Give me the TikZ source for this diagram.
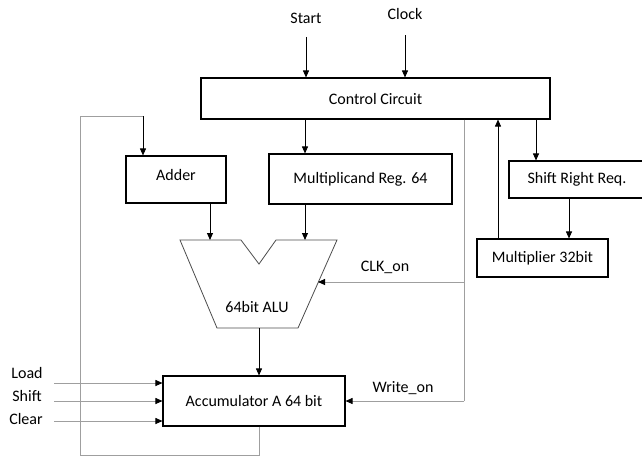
\documentclass[tikz,border=0pt]{standalone}
\usepackage{fontspec}
\setmainfont{Carlito}
\usetikzlibrary{arrows.meta}
\tikzstyle{block} = [rectangle, draw=black, line width=1.1pt, text centered, inner sep=0pt]
\tikzstyle{arrow} = [line width=0.9pt, -{Triangle[length=7pt,width=6pt]}]
\tikzstyle{wire} = [draw=gray!75, line width=0.9pt]
\tikzstyle{garrow} = [wire, -{Triangle[length=7pt,width=6pt,black]}]

\begin{document}
\begin{tikzpicture}[x=1pt, y=-1pt, font=\fontsize{16}{19}\selectfont]
\clip (0,0) rectangle (642,459);
\node (start) at (306,18) {Start};
\node (clock) at (405,14) {Clock};
\node (control) [block, minimum width=349pt, minimum height=41pt] at (375.5,98.5) {Control Circuit};
\node (adder) [block, minimum width=100pt, minimum height=47pt, text height=10pt, text depth=9pt] at (176,179.5) {Adder};
\node (multiplicand) [block, minimum width=183pt, minimum height=50pt] at (360.5,179) {Multiplicand Reg. 64};
\node (shiftreg) [block, minimum width=136pt, minimum height=37pt] at (577,179.5) {Shift Right Req.};
\node (multiplier) [block, minimum width=131pt, minimum height=38pt] at (542.5,258) {Multiplier 32bit};
\node (accum) [block, minimum width=182pt, minimum height=50pt] at (254,401) {Accumulator A 64 bit};

% ALU outline
\draw [draw=gray!60!black, line width=0.8pt] (180,240) -- (241,240) -- (259,264) -- (276,240) -- (337,240) -- (298,328) -- (217,328) -- cycle;
\node (alu) at (257,307) {64bit ALU};
\coordinate (aluinA) at (210,240);
\coordinate (aluinB) at (305,240);
\coordinate (aluclk) at (318,282);
\coordinate (aluout) at (259,328);

% taps on the control circuit
\coordinate (tapsr) at (536,0);
\coordinate (tapmul) at (498,0);
\coordinate (tapsig) at (464,0);
\coordinate (tapmr) at (569,0);
\coordinate (loopL) at (80,116);
\coordinate (loopB) at (80,455);
\coordinate (adderin) at (143,0);

\node (clklbl) at (385,267) {CLK\_on};
\node (writelbl) at (403,388) {Write\_on};
\node (load) at (27,373) {Load};
\node (shift) at (27,396) {Shift};
\node (clear) at (26,419) {Clear};
\coordinate (inload) at (54,383);
\coordinate (inshift) at (54,401);
\coordinate (inclear) at (54,421);

\draw [arrow] ([yshift=-10pt]start.south) -- (start |- control.north);
\draw [arrow] ([yshift=-12pt]clock.south) -- (clock |- control.north);
\draw [arrow] (control.south -| aluinB) -- (multiplicand.north -| aluinB);
\draw [arrow] (control.south -| tapsr) -- (shiftreg.north -| tapsr);
\draw [arrow] (multiplier.north -| tapmul) -- (control.south -| tapmul);
\draw [arrow] (shiftreg.south -| tapmr) -- (multiplier.north -| tapmr);
\draw [arrow] (adder.south -| aluinA) -- (aluinA);
\draw [arrow] (multiplicand.south -| aluinB) -- (aluinB);
\draw [arrow] (aluout) -- (accum.north -| aluout);

\draw [wire] (control.south -| tapsig) -- (tapsig |- accum.east);
\draw [garrow] (tapsig |- aluclk) -- (aluclk);
\draw [garrow] (tapsig |- accum.east) -- (accum.east);

\draw [wire] (accum.south -| aluout) -- (aluout |- loopB) -- (loopB) -- (loopL) -- (loopL -| adderin);
\draw [arrow] (loopL -| adderin) -- (adder.north -| adderin);

\draw [garrow] (inload) -- (accum.west |- inload);
\draw [garrow] (inshift) -- (accum.west |- inshift);
\draw [garrow] (inclear) -- (accum.west |- inclear);
\end{tikzpicture}
\end{document}
